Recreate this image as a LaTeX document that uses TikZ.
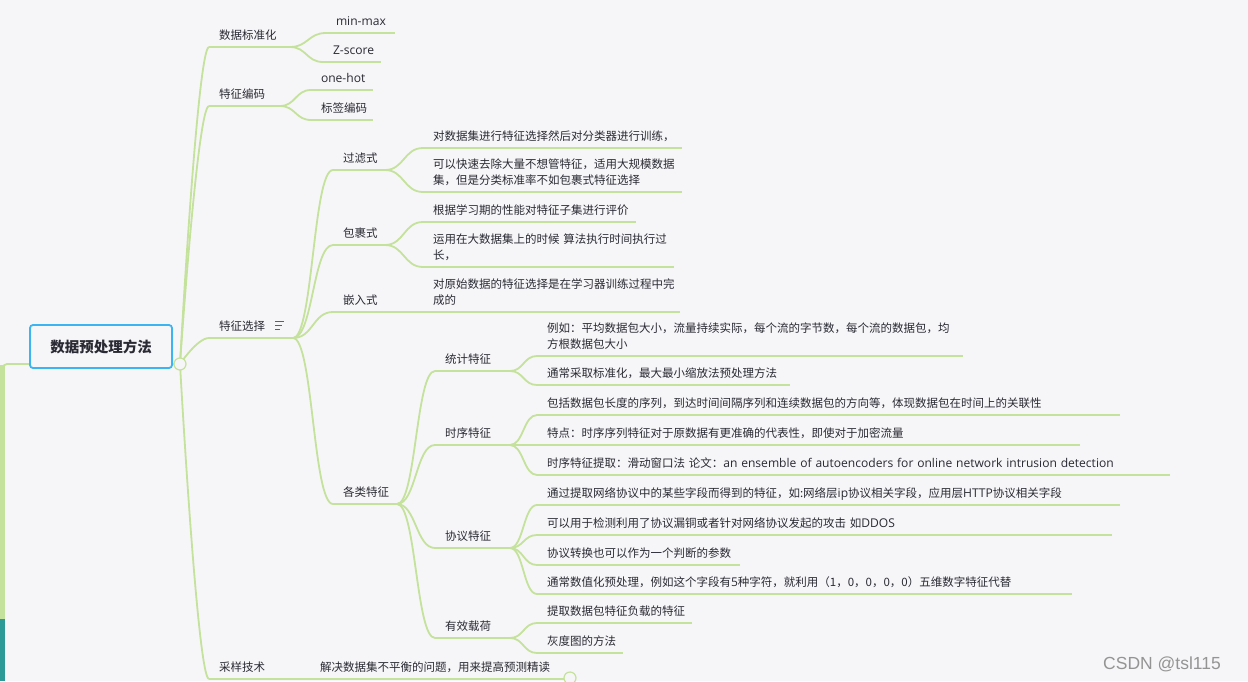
\documentclass[tikz,border=0pt]{standalone}
\usepackage{fontspec}
\setmainfont{Noto Sans CJK SC}
\newfontfamily\lat[Scale=1.05]{Open Sans}
\newfontfamily\wmfont{Liberation Sans}
\usetikzlibrary{calc}
\definecolor{bg}{HTML}{F6F6F8}
\definecolor{ln}{HTML}{C4E29B}
\definecolor{tx}{HTML}{2A2A34}
\definecolor{rootb}{HTML}{3BB4F2}
\definecolor{tealbar}{HTML}{2C9A97}
\newcommand\pd{\hspace*{10pt}}
\newcommand\br[2]{\draw[conn] let \p1=(#1.south east), \p2=(#2.south west) in (\p1) .. controls ({0.5*\x1+0.5*\x2},\y1) and ({0.5*\x1+0.5*\x2},\y2) .. (\p2);}
\newcommand\rbr[1]{\draw[conn] let \p1=(rc.center), \p2=(#1.south west) in (\p1) .. controls (\p1) and ({\x1+0.6*(\x2-\x1)},\y2) .. (\p2);}
\begin{document}
\begin{tikzpicture}[x=1pt,y=-1pt,
  conn/.style={draw=ln, line width=1.8pt},
  topic/.style={anchor=south west, inner xsep=0pt, inner ysep=2.7pt, outer sep=0pt,
    align=left, text=tx, font=\fontsize{11.5}{16}\selectfont,
    append after command={(\tikzlastnode.south west) edge[conn] (\tikzlastnode.south east)}}]
\fill[bg] (0,0) rectangle (1248,681);
\useasboundingbox (0,0) rectangle (1248,681);
% left bar
\fill[ln] (0,365) rectangle (5,619);
\fill[tealbar] (0,619) rectangle (5,681);
\coordinate (lb) at (3,366);
\node[circle, inner sep=0pt, minimum size=12pt] (rc) at (180,364) {};
\draw[conn, rounded corners=4pt] (lb) |- (rc.center);
% root
\node[draw=rootb, line width=1.8pt, rounded corners=3pt, minimum width=142pt, minimum height=43pt,
  fill=bg, text=tx, font=\bfseries\fontsize{14.5}{16}\selectfont] (root) at (101,346.5) {数据预处理方法};
% level 1
\node[topic, text width=81pt] (n1) at (209,47) {\pd 数据标准化\strut};
\node[topic, text width=71pt] (n2) at (209,106) {\pd 特征编码\strut};
\node[topic, text width=84pt] (n3) at (209,338) {\pd 特征选择\strut};
\node[topic, text width=81pt] (n4) at (209,679) {\pd 采样技术\strut};
% level 2
\node[topic, text width=69pt] (n11) at (326,33) {\pd{\lat min-max}\strut};
\node[topic, text width=58pt] (n12) at (323,62) {\pd{\lat Z-score}\strut};
\node[topic, text width=62pt] (n21) at (311,90) {\pd{\lat one-hot}\strut};
\node[topic, text width=62pt] (n22) at (311,120) {\pd 标签编码\strut};
\node[topic, text width=52pt] (n31) at (333,170) {\pd 过滤式\strut};
\node[topic, text width=52pt] (n32) at (333,245) {\pd 包裹式\strut};
\node[topic, text width=52pt] (n33) at (333,312) {\pd 嵌入式\strut};
\node[topic, text width=64pt] (n34) at (333,504) {\pd 各类特征\strut};
\node[topic, text width=255pt] (a1) at (310,679) {\pd 解决数据集不平衡的问题，用来提高预测精读\strut};
% level 3
\node[topic, text width=259pt] (f1) at (423,148) {\pd 对数据集进行特征选择然后对分类器进行训练，\strut};
\node[topic, text width=259pt] (f2) at (423,192) {\pd 可以快速去除大量不想管特征，适用大规模数据\\\pd 集，但是分类标准率不如包裹式特征选择\strut};
\node[topic, text width=213pt] (w1) at (423,222) {\pd 根据学习期的性能对特征子集进行评价\strut};
\node[topic, text width=251pt] (w2) at (423,267) {\pd 运用在大数据集上的时候~算法执行时间执行过\\\pd 长，\strut};
\node[topic, text width=257pt] (e1) at (423,312) {\pd 对原始数据的特征选择是在学习器训练过程中完\\\pd 成的\strut};
\node[topic, text width=75pt] (g1) at (435,371) {\pd 统计特征\strut};
\node[topic, text width=75pt] (g2) at (435,445) {\pd 时序特征\strut};
\node[topic, text width=75pt] (g3) at (435,548) {\pd 协议特征\strut};
\node[topic, text width=75pt] (g4) at (435,638) {\pd 有效载荷\strut};
% level 4
\node[topic, text width=426pt] (s1) at (537,356) {\pd 例如：平均数据包大小，流量持续实际，每个流的字节数，每个流的数据包，均\\\pd 方根数据包大小\strut};
\node[topic, text width=253pt] (s2) at (537,385) {\pd 通常采取标准化，最大最小缩放法预处理方法\strut};
\node[topic, text width=583pt] (t1) at (537,415) {\pd 包括数据包长度的序列，到达时间间隔序列和连续数据包的方向等，体现数据包在时间上的关联性\strut};
\node[topic, text width=543pt] (t2) at (537,445) {\pd 特点：时序序列特征对于原数据有更准确的代表性，即使对于加密流量\strut};
\node[topic, text width=633pt] (t3) at (537,475) {\pd 时序特征提取：滑动窗口法~论文：{\lat an ensemble of autoencoders for online network intrusion detection}\strut};
\node[topic, text width=583pt] (p1) at (537,505) {\pd 通过提取网络协议中的某些字段而得到的特征，如:网络层{\lat ip}协议相关字段，应用层{\lat HTTP}协议相关字段\strut};
\node[topic, text width=575pt] (p2) at (537,535) {\pd 可以用于检测利用了协议漏铜或者针对网络协议发起的攻击~如{\lat DDOS}\strut};
\node[topic, text width=203pt] (p3) at (537,565) {\pd 协议转换也可以作为一个判断的参数\strut};
\node[topic, text width=535pt] (p4) at (537,594) {\pd 通常数值化预处理，例如这个字段有{\lat 5}种字符，就利用（1，0，0，0，0）五维数字特征代替\strut};
\node[topic, text width=155pt] (v1) at (537,623) {\pd 提取数据包特征负载的特征\strut};
\node[topic, text width=86pt] (v2) at (537,653) {\pd 灰度图的方法\strut};
% connectors
\foreach \c in {n1,n2,n3,n4} {\rbr{\c}}
\foreach \a/\b in {n1/n11,n1/n12,n2/n21,n2/n22,n3/n31,n3/n32,n3/n33,n3/n34,n4/a1,
  n31/f1,n31/f2,n32/w1,n32/w2,n33/e1,n34/g1,n34/g2,n34/g3,n34/g4,
  g1/s1,g1/s2,g2/t1,g2/t2,g2/t3,g3/p1,g3/p2,g3/p3,g3/p4,g4/v1,g4/v2} {\br{\a}{\b}}
% collapse circles
\draw[ln, line width=1.2pt, fill=bg] (rc) circle[radius=6pt];
\node[circle, draw=ln, line width=1.2pt, fill=bg, minimum size=12pt, inner sep=0pt] (ac) at (570,678) {};
% list icon
\draw[tx!75, line width=1pt] (275,321) -- (284,321) (275,325) -- (282,325) (275,329) -- (280,329);
% watermark
\node[anchor=base west, inner sep=0pt, text=black!42, font=\wmfont\fontsize{17.5}{17.5}\selectfont] (wm) at (1103,669) {CSDN @tsl115};
\end{tikzpicture}
\end{document}
